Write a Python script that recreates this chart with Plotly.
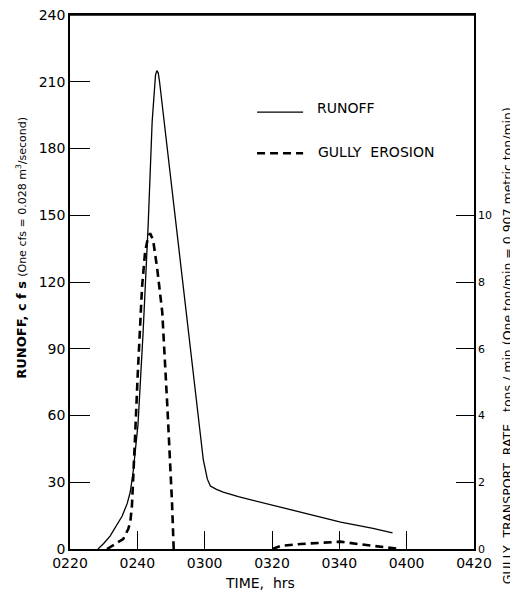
import plotly.graph_objects as go

# Time in minutes after 02:20
x_tickvals = [0, 20, 40, 60, 80, 100, 120]
x_ticktext = ["0220", "0240", "0300", "0320", "0340", "0400", "0420"]

runoff_t = [8.3, 10, 11.9, 13.7, 15.5, 17.0, 17.9, 18.75, 19.6, 20.2, 21.7, 23.2, 24.4,
            25.0, 25.4, 25.8, 26.2, 26.6, 30, 35.7, 39.6, 40.8, 41.7, 43.5, 45.5, 50,
            58.6, 68.5, 80.4, 90, 95.8]
runoff_cfs = [0, 2.5, 5.8, 10, 14.8, 20.5, 25.6, 34.6, 47, 56, 97, 145, 192,
              208, 213, 215, 214, 210, 165, 91, 40, 31.4, 28.3, 26.8, 25.6, 23.5,
              20.2, 16.6, 12.1, 9.3, 7.2]

gully_t = [11, 13, 15.8, 17.3, 17.9, 18.4, 18.75, 19.3, 20.1, 20.8, 21.4, 22.3, 23.2,
           23.8, 24.7, 25.9, 27.4, 28.9, 29.4, 30.3, 30.8, None,
           60.1, 62.5, 68.5, 75, 80.4, 85.4, 92.3, 98]
gully_rate = [0, 0.12, 0.3, 0.6, 0.8, 1.3, 2.3, 3.3, 5.2, 6.9, 7.85, 8.9, 9.35,
              9.46, 9.25, 8.4, 7.1, 4.3, 3.3, 1.4, 0, None,
              0, 0.09, 0.15, 0.2, 0.22, 0.15, 0.08, 0]

left_ticks = [0, 30, 60, 90, 120, 150, 180, 210, 240]
right_ticks = [0, 2, 4, 6, 8, 10]

FONT = "DejaVu Sans"

fig = go.Figure()
fig.add_trace(go.Scatter(x=runoff_t, y=runoff_cfs, mode="lines",
                         line=dict(color="black", width=1.3), name="RUNOFF",
                         showlegend=False))
fig.add_trace(go.Scatter(x=gully_t, y=gully_rate, mode="lines", yaxis="y2",
                         line=dict(color="black", width=2.6, dash="8px,5px"),
                         name="GULLY EROSION", showlegend=False, connectgaps=False))

fig.update_layout(
    width=510, height=589,
    margin=dict(l=62, r=44, t=7, b=48),
    paper_bgcolor="white", plot_bgcolor="white",
    font=dict(family=FONT, color="black"),
    xaxis=dict(range=[0, 120], tickvals=x_tickvals, ticktext=x_ticktext,
               ticks="inside", ticklen=18, tickwidth=1.2, tickcolor="black",
               showline=True, linecolor="black", linewidth=1.5, mirror=True,
               showgrid=False, zeroline=False, tickfont=dict(size=14),
               automargin=False, ticklabeloverflow="allow"),
    yaxis=dict(range=[0, 240], tickvals=left_ticks,
               ticks="inside", ticklen=20, tickwidth=1.2, tickcolor="black",
               showline=True, linecolor="black", linewidth=1.5, mirror=True,
               showgrid=False, zeroline=False, tickfont=dict(size=14),
               automargin=False, ticklabeloverflow="allow"),
    yaxis2=dict(range=[0, 16], tickvals=right_ticks, overlaying="y", side="right",
                ticks="inside", ticklen=18, tickwidth=1.2, tickcolor="black",
                showline=True, linecolor="black", linewidth=1.5,
                showgrid=False, zeroline=False, tickfont=dict(size=11),
                automargin=False, ticklabeloverflow="allow"),
)

# Top frame line
fig.add_shape(type="line", xref="paper", yref="paper", x0=0, x1=1, y0=1, y1=1,
              line=dict(color="black", width=1.5))

# Legend (drawn manually to match the original placement)
fig.add_shape(type="line", xref="paper", yref="paper", x0=0.463, x1=0.577,
              y0=0.818, y1=0.818, line=dict(color="black", width=1.3))
fig.add_shape(type="line", xref="paper", yref="paper", x0=0.463, x1=0.577,
              y0=0.741, y1=0.741, line=dict(color="black", width=2.6, dash="8px,5px"))
fig.add_annotation(text="RUNOFF", xref="paper", yref="paper", x=0.607, y=0.826,
                   xanchor="left", yanchor="middle", showarrow=False,
                   font=dict(size=14))
fig.add_annotation(text="GULLY  EROSION", xref="paper", yref="paper", x=0.610, y=0.743,
                   xanchor="left", yanchor="middle", showarrow=False,
                   font=dict(size=14))

# Axis titles
fig.add_annotation(text="TIME,  hrs", xref="paper", yref="paper", x=0.47, y=-0.064,
                   xanchor="center", yanchor="middle", showarrow=False,
                   font=dict(size=14))
fig.add_annotation(text="<b>RUNOFF, c f s</b> <span style='font-size:11px'>(One cfs = 0.028 m<sup>3</sup>/second)</span>",
                   xref="paper", yref="paper", x=-0.119, y=0.564, textangle=-90,
                   xanchor="center", yanchor="middle", showarrow=False,
                   font=dict(size=13))
fig.add_annotation(text="GULLY  TRANSPORT  RATE,  tons / min (One ton/min = 0.907 metric ton/min)",
                   xref="paper", yref="paper", x=1.082, y=0.38, textangle=-90,
                   xanchor="center", yanchor="middle", showarrow=False,
                   font=dict(size=12.5))

fig.write_html("out.html")
